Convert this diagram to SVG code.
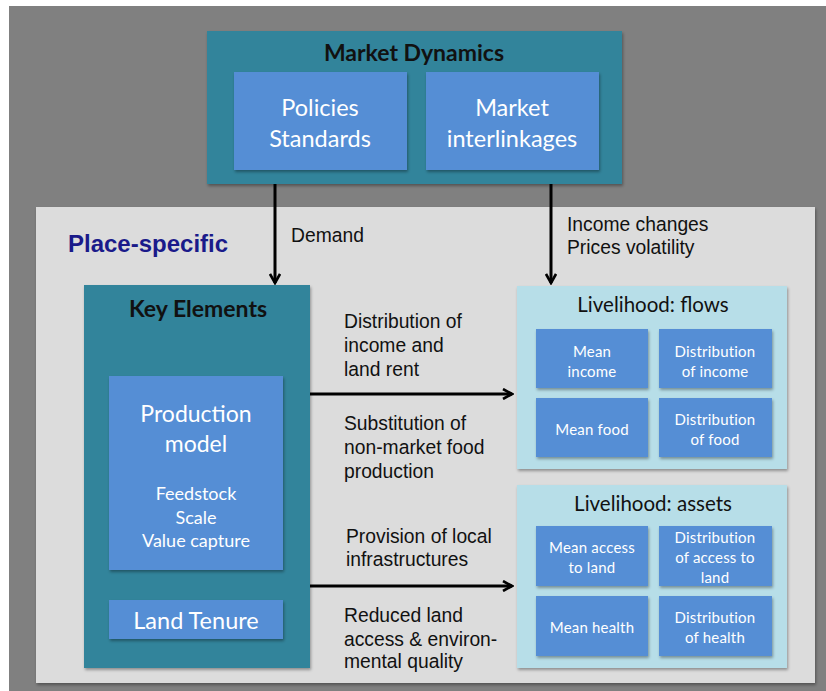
<svg xmlns="http://www.w3.org/2000/svg" width="826" height="691" viewBox="0 0 826 691">
<defs>
<filter id="sh" x="-10%" y="-10%" width="130%" height="130%">
<feDropShadow dx="1" dy="2" stdDeviation="1.5" flood-color="#000" flood-opacity="0.35"/>
</filter>
<marker id="ah" viewBox="0 0 12 12" refX="10" refY="6" markerWidth="12" markerHeight="12" markerUnits="userSpaceOnUse" orient="auto">
<path d="M1,1 L10,6 L1,11" fill="none" stroke="#000" stroke-width="2.6"/>
</marker>
<style>
.teal{fill:#31849b;}
.blue{fill:#558ed5;}
.lb{fill:#b7dee8;}
.t{font-family:Lato,"Open Sans","Liberation Sans",sans-serif;text-anchor:middle;}
.w{fill:#fff;}
.k{fill:#111;}
.s{font-size:15px;letter-spacing:0.2px;}
.lab{font-family:"Liberation Sans",Arial,sans-serif;font-size:19.3px;fill:#111;}
.con{stroke:#000;stroke-width:3;fill:none;marker-end:url(#ah);}
</style>
</defs>
<rect x="0" y="0" width="826" height="691" fill="#fff"/>
<rect x="9" y="6" width="817" height="685" fill="#808080"/>
<g id="place-specific">
<rect x="36" y="207" width="779" height="476" fill="#dcdcdc" filter="url(#sh)"/>
<text x="68" y="252" font-family="'Liberation Sans',Arial,sans-serif" font-size="24" font-weight="bold" fill="#1a1a8a">Place-specific</text>
</g>
<g id="market-dynamics">
<rect class="teal" x="207" y="31" width="415" height="153" filter="url(#sh)"/>
<text class="t k" x="414" y="61" font-size="23" font-weight="bold">Market Dynamics</text>
</g>
<g id="policies-standards">
<rect class="blue" x="234" y="72" width="173" height="98" filter="url(#sh)"/>
<text class="t w" x="320" y="116" font-size="23.5">Policies</text>
<text class="t w" x="320" y="147" font-size="23.5">Standards</text>
</g>
<g id="market-interlinkages">
<rect class="blue" x="426" y="72" width="173" height="98" filter="url(#sh)"/>
<text class="t w" x="512" y="116" font-size="23.5">Market</text>
<text class="t w" x="512" y="147" font-size="23.5">interlinkages</text>
</g>
<g id="key-elements">
<rect class="teal" x="84" y="285" width="226" height="383" filter="url(#sh)"/>
<text class="t k" x="198" y="317" font-size="23" font-weight="bold">Key Elements</text>
</g>
<g id="production-model">
<rect class="blue" x="109" y="376" width="174" height="194" filter="url(#sh)"/>
<text class="t w" x="196" y="422" font-size="23">Production</text>
<text class="t w" x="196" y="452" font-size="23">model</text>
<text class="t w" x="196" y="500" font-size="18">Feedstock</text>
<text class="t w" x="196" y="524" font-size="18">Scale</text>
<text class="t w" x="196" y="547" font-size="18">Value capture</text>
</g>
<g id="land-tenure">
<rect class="blue" x="109" y="600" width="174" height="39" filter="url(#sh)"/>
<text class="t w" x="196" y="629" font-size="23.5">Land Tenure</text>
</g>
<g id="livelihood-flows">
<rect class="lb" x="517" y="286" width="270" height="183" filter="url(#sh)"/>
<text class="t k" x="653" y="312" font-size="20.5">Livelihood: flows</text>
</g>
<g id="mean-income">
<rect class="blue" x="536" y="329" width="112" height="59" filter="url(#sh)"/>
<text class="t w s" x="592" y="357">Mean</text>
<text class="t w s" x="592" y="377">income</text>
</g>
<g id="distribution-income">
<rect class="blue" x="659" y="329" width="113" height="59" filter="url(#sh)"/>
<text class="t w s" x="715" y="357">Distribution</text>
<text class="t w s" x="715" y="377">of income</text>
</g>
<g id="mean-food">
<rect class="blue" x="536" y="398" width="112" height="59" filter="url(#sh)"/>
<text class="t w s" x="592" y="435">Mean food</text>
</g>
<g id="distribution-food">
<rect class="blue" x="659" y="398" width="113" height="59" filter="url(#sh)"/>
<text class="t w s" x="715" y="425">Distribution</text>
<text class="t w s" x="715" y="445">of food</text>
</g>
<g id="livelihood-assets">
<rect class="lb" x="517" y="485" width="270" height="183" filter="url(#sh)"/>
<text class="t k" x="653" y="511" font-size="20.5">Livelihood: assets</text>
</g>
<g id="mean-access-land">
<rect class="blue" x="536" y="526" width="112" height="60" filter="url(#sh)"/>
<text class="t w s" x="592" y="553">Mean access</text>
<text class="t w s" x="592" y="573">to land</text>
</g>
<g id="distribution-access-land">
<rect class="blue" x="659" y="526" width="113" height="60" filter="url(#sh)"/>
<text class="t w s" x="715" y="543">Distribution</text>
<text class="t w s" x="715" y="563">of access to</text>
<text class="t w s" x="715" y="583">land</text>
</g>
<g id="mean-health">
<rect class="blue" x="536" y="596" width="112" height="60" filter="url(#sh)"/>
<text class="t w s" x="592" y="633">Mean health</text>
</g>
<g id="distribution-health">
<rect class="blue" x="659" y="596" width="113" height="60" filter="url(#sh)"/>
<text class="t w s" x="715" y="623">Distribution</text>
<text class="t w s" x="715" y="643">of health</text>
</g>
<g id="connectors">
<line class="con" x1="275" y1="184" x2="275" y2="283"/>
<line class="con" x1="551" y1="184" x2="551" y2="283"/>
<line class="con" x1="310" y1="394" x2="512" y2="394"/>
<line class="con" x1="310" y1="586" x2="512" y2="586"/>
<text class="lab" x="291" y="242">Demand</text>
<text class="lab" x="567" y="231">Income changes</text>
<text class="lab" x="567" y="254">Prices volatility</text>
<text class="lab" x="344" y="328">Distribution of</text>
<text class="lab" x="344" y="352">income and</text>
<text class="lab" x="344" y="376">land rent</text>
<text class="lab" x="344" y="430">Substitution of</text>
<text class="lab" x="344" y="454">non-market food</text>
<text class="lab" x="344" y="478">production</text>
<text class="lab" x="346" y="543">Provision of local</text>
<text class="lab" x="346" y="566">infrastructures</text>
<text class="lab" x="344" y="622">Reduced land</text>
<text class="lab" x="344" y="646">access &amp; environ-</text>
<text class="lab" x="344" y="668">mental quality</text>
</g>
</svg>
